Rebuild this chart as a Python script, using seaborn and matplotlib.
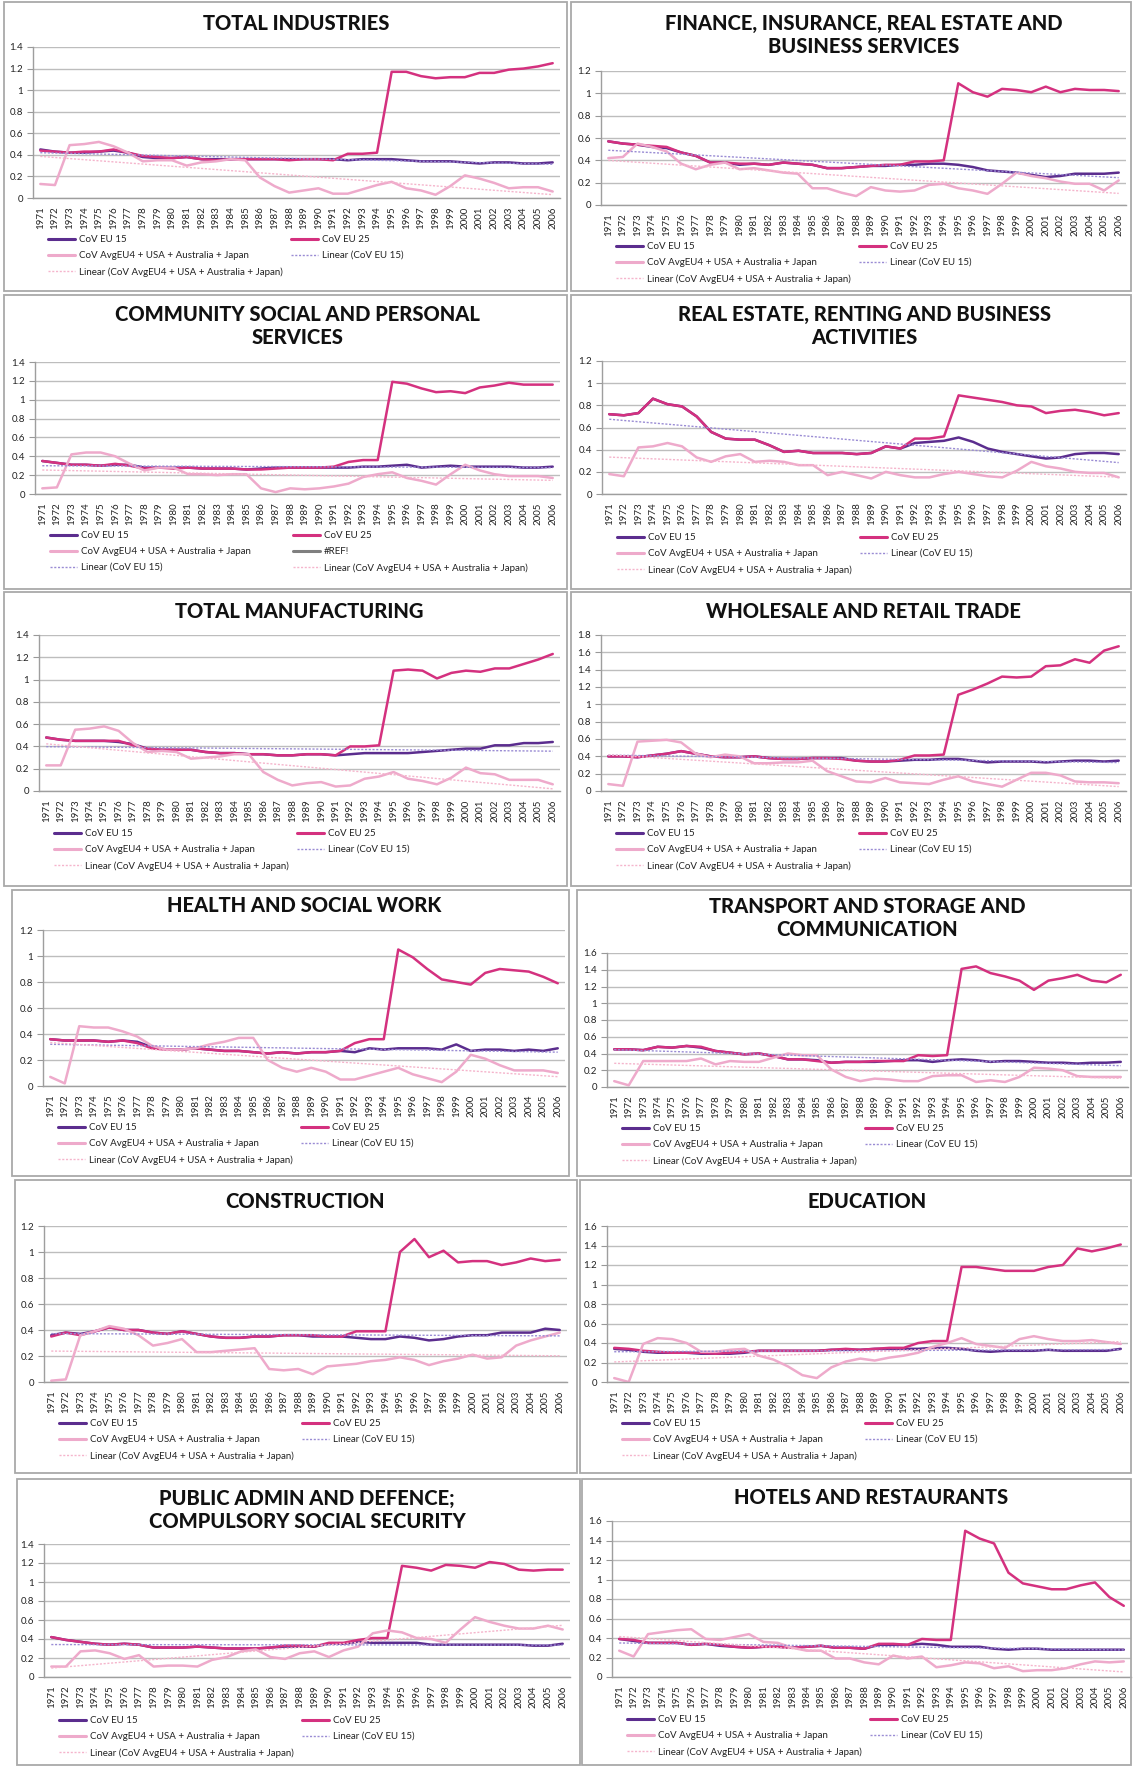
import numpy as np
import matplotlib
matplotlib.use("Agg")
import matplotlib.pyplot as plt
import seaborn as sns
from matplotlib.lines import Line2D
from matplotlib.patches import Rectangle

sns.set_theme(style="white")
plt.rcParams["font.family"] = ["Lato", "DejaVu Sans"]

W, H = 1133, 1766

years = [str(y) for y in range(1971, 2007)]

titles = [
    "TOTAL INDUSTRIES",
    "FINANCE, INSURANCE, REAL ESTATE AND\nBUSINESS SERVICES",
    "COMMUNITY SOCIAL AND PERSONAL\nSERVICES",
    "REAL ESTATE, RENTING AND BUSINESS\nACTIVITIES",
    "TOTAL MANUFACTURING",
    "WHOLESALE AND RETAIL TRADE",
    "HEALTH AND SOCIAL WORK",
    "TRANSPORT AND STORAGE AND\nCOMMUNICATION",
    "CONSTRUCTION",
    "EDUCATION",
    "PUBLIC ADMIN AND DEFENCE;\nCOMPULSORY SOCIAL SECURITY",
    "HOTELS AND RESTAURANTS",
]

y_max = [1.4, 1.2, 1.4, 1.2, 1.4, 1.8, 1.2, 1.6, 1.2, 1.6, 1.4, 1.6]

label_eu15 = "CoV EU 15"
label_eu25 = "CoV EU 25"
label_avg = "CoV AvgEU4 + USA + Australia + Japan"
label_lin15 = "Linear (CoV EU 15)"
label_linavg = "Linear (CoV AvgEU4 + USA + Australia + Japan)"
label_ref = "#REF!"

# ---------------- data ----------------
total_eu15 = [0.45, 0.43, 0.42, 0.42, 0.43, 0.44, 0.42, 0.38, 0.37, 0.37, 0.38, 0.36, 0.36, 0.36, 0.36, 0.36,
              0.36, 0.36, 0.36, 0.36, 0.36, 0.35, 0.36, 0.36, 0.36, 0.35, 0.34, 0.34, 0.34, 0.33, 0.32, 0.33,
              0.33, 0.32, 0.32, 0.33]
total_eu25 = [0.44, 0.43, 0.42, 0.43, 0.43, 0.45, 0.42, 0.39, 0.38, 0.37, 0.38, 0.36, 0.35, 0.36, 0.36, 0.36,
              0.36, 0.35, 0.36, 0.36, 0.35, 0.41, 0.41, 0.42, 1.17, 1.17, 1.13, 1.11, 1.12, 1.12, 1.16, 1.16,
              1.19, 1.20, 1.22, 1.25]
total_avg = [0.13, 0.12, 0.49, 0.50, 0.52, 0.48, 0.42, 0.34, 0.35, 0.35, 0.30, 0.33, 0.34, 0.36, 0.35, 0.19,
             0.11, 0.05, 0.07, 0.09, 0.04, 0.04, 0.08, 0.12, 0.15, 0.09, 0.07, 0.03, 0.11, 0.21, 0.18, 0.14,
             0.09, 0.10, 0.10, 0.06]

finance_eu15 = [0.57, 0.55, 0.54, 0.52, 0.51, 0.47, 0.44, 0.38, 0.38, 0.36, 0.37, 0.36, 0.38, 0.37, 0.36, 0.33,
                0.33, 0.34, 0.35, 0.35, 0.36, 0.36, 0.37, 0.37, 0.36, 0.34, 0.31, 0.30, 0.29, 0.27, 0.25, 0.26,
                0.28, 0.28, 0.28, 0.29]
finance_eu25 = [0.57, 0.55, 0.54, 0.53, 0.52, 0.47, 0.44, 0.38, 0.38, 0.37, 0.37, 0.36, 0.38, 0.37, 0.36, 0.33,
                0.33, 0.34, 0.35, 0.36, 0.36, 0.39, 0.39, 0.40, 1.09, 1.01, 0.97, 1.04, 1.03, 1.01, 1.06, 1.01,
                1.04, 1.03, 1.03, 1.02]
finance_avg = [0.42, 0.43, 0.55, 0.52, 0.48, 0.37, 0.32, 0.36, 0.38, 0.32, 0.33, 0.31, 0.29, 0.28, 0.15, 0.15,
               0.11, 0.08, 0.16, 0.13, 0.12, 0.13, 0.18, 0.19, 0.15, 0.13, 0.10, 0.19, 0.29, 0.26, 0.24, 0.21,
               0.19, 0.19, 0.13, 0.22]

community_eu15 = [0.35, 0.33, 0.31, 0.31, 0.30, 0.31, 0.31, 0.28, 0.28, 0.28, 0.28, 0.27, 0.27, 0.27, 0.26, 0.27,
                  0.28, 0.28, 0.28, 0.28, 0.28, 0.28, 0.29, 0.29, 0.30, 0.31, 0.28, 0.29, 0.30, 0.29, 0.29, 0.29,
                  0.29, 0.28, 0.28, 0.29]
community_eu25 = [0.35, 0.33, 0.31, 0.31, 0.30, 0.32, 0.30, 0.27, 0.28, 0.27, 0.28, 0.27, 0.27, 0.27, 0.26, 0.26,
                  0.27, 0.28, 0.28, 0.28, 0.29, 0.34, 0.36, 0.36, 1.19, 1.17, 1.12, 1.08, 1.09, 1.07, 1.13, 1.15,
                  1.18, 1.16, 1.16, 1.16]
community_avg = [0.06, 0.07, 0.42, 0.44, 0.44, 0.40, 0.32, 0.25, 0.28, 0.28, 0.21, 0.21, 0.20, 0.21, 0.21, 0.06,
                 0.02, 0.06, 0.05, 0.06, 0.08, 0.11, 0.18, 0.21, 0.23, 0.17, 0.14, 0.10, 0.21, 0.31, 0.25, 0.21,
                 0.19, 0.19, 0.19, 0.17]

realestate_eu15 = [0.72, 0.71, 0.73, 0.86, 0.81, 0.79, 0.70, 0.56, 0.50, 0.49, 0.49, 0.44, 0.38, 0.39, 0.37, 0.37,
                   0.37, 0.36, 0.37, 0.43, 0.41, 0.46, 0.47, 0.48, 0.51, 0.47, 0.41, 0.38, 0.36, 0.34, 0.32, 0.33,
                   0.36, 0.37, 0.37, 0.36]
realestate_eu25 = [0.72, 0.71, 0.73, 0.86, 0.81, 0.79, 0.70, 0.56, 0.50, 0.49, 0.49, 0.44, 0.38, 0.39, 0.37, 0.37,
                   0.37, 0.36, 0.37, 0.43, 0.41, 0.50, 0.50, 0.52, 0.89, 0.87, 0.85, 0.83, 0.80, 0.79, 0.73, 0.75,
                   0.76, 0.74, 0.71, 0.73]
realestate_avg = [0.18, 0.16, 0.42, 0.43, 0.46, 0.43, 0.33, 0.29, 0.34, 0.36, 0.29, 0.30, 0.29, 0.26, 0.26, 0.17,
                  0.20, 0.17, 0.14, 0.20, 0.17, 0.15, 0.15, 0.18, 0.20, 0.18, 0.16, 0.15, 0.21, 0.29, 0.25, 0.23,
                  0.20, 0.19, 0.19, 0.15]

manuf_eu15 = [0.48, 0.46, 0.45, 0.45, 0.45, 0.44, 0.42, 0.38, 0.37, 0.37, 0.37, 0.35, 0.34, 0.34, 0.33, 0.33,
              0.32, 0.32, 0.33, 0.33, 0.32, 0.33, 0.34, 0.34, 0.34, 0.34, 0.35, 0.36, 0.37, 0.38, 0.38, 0.41,
              0.41, 0.43, 0.43, 0.44]
manuf_eu25 = [0.48, 0.46, 0.45, 0.45, 0.45, 0.45, 0.41, 0.38, 0.37, 0.37, 0.37, 0.35, 0.34, 0.34, 0.33, 0.33,
              0.32, 0.32, 0.33, 0.33, 0.32, 0.40, 0.40, 0.41, 1.08, 1.09, 1.08, 1.01, 1.06, 1.08, 1.07, 1.10,
              1.10, 1.14, 1.18, 1.23]
manuf_avg = [0.23, 0.23, 0.55, 0.56, 0.58, 0.54, 0.43, 0.35, 0.36, 0.35, 0.29, 0.30, 0.31, 0.33, 0.33, 0.17,
             0.10, 0.05, 0.07, 0.08, 0.04, 0.05, 0.11, 0.13, 0.17, 0.11, 0.09, 0.06, 0.12, 0.21, 0.16, 0.15,
             0.10, 0.10, 0.10, 0.06]

trade_eu15 = [0.40, 0.40, 0.39, 0.41, 0.43, 0.46, 0.43, 0.40, 0.39, 0.39, 0.40, 0.38, 0.37, 0.37, 0.38, 0.38,
              0.38, 0.35, 0.34, 0.34, 0.35, 0.36, 0.36, 0.37, 0.37, 0.35, 0.33, 0.34, 0.34, 0.34, 0.33, 0.34,
              0.35, 0.35, 0.34, 0.35]
trade_eu25 = [0.40, 0.40, 0.39, 0.41, 0.43, 0.46, 0.43, 0.40, 0.39, 0.39, 0.40, 0.38, 0.37, 0.37, 0.38, 0.38,
              0.37, 0.35, 0.34, 0.34, 0.36, 0.41, 0.41, 0.42, 1.11, 1.17, 1.24, 1.32, 1.31, 1.32, 1.44, 1.45,
              1.52, 1.48, 1.62, 1.67]
trade_avg = [0.08, 0.06, 0.57, 0.58, 0.59, 0.56, 0.43, 0.39, 0.42, 0.40, 0.32, 0.32, 0.33, 0.33, 0.35, 0.23,
             0.17, 0.11, 0.10, 0.15, 0.10, 0.09, 0.08, 0.13, 0.17, 0.11, 0.08, 0.05, 0.13, 0.21, 0.21, 0.18,
             0.11, 0.10, 0.10, 0.09]

health_eu15 = [0.36, 0.35, 0.35, 0.35, 0.34, 0.35, 0.34, 0.30, 0.28, 0.28, 0.29, 0.28, 0.27, 0.27, 0.26, 0.25,
               0.26, 0.25, 0.26, 0.26, 0.27, 0.26, 0.29, 0.28, 0.29, 0.29, 0.29, 0.28, 0.32, 0.27, 0.28, 0.28,
               0.27, 0.28, 0.27, 0.29]
health_eu25 = [0.36, 0.35, 0.35, 0.35, 0.34, 0.35, 0.33, 0.29, 0.28, 0.28, 0.29, 0.28, 0.27, 0.27, 0.26, 0.25,
               0.26, 0.25, 0.26, 0.26, 0.27, 0.33, 0.36, 0.36, 1.05, 0.99, 0.90, 0.82, 0.80, 0.78, 0.87, 0.90,
               0.89, 0.88, 0.84, 0.79]
health_avg = [0.07, 0.02, 0.46, 0.45, 0.45, 0.42, 0.38, 0.31, 0.28, 0.28, 0.29, 0.32, 0.34, 0.37, 0.37, 0.20,
              0.14, 0.11, 0.14, 0.11, 0.05, 0.05, 0.08, 0.11, 0.14, 0.09, 0.06, 0.03, 0.11, 0.24, 0.21, 0.16,
              0.12, 0.12, 0.12, 0.10]

transport_eu15 = [0.45, 0.45, 0.44, 0.48, 0.47, 0.49, 0.47, 0.43, 0.41, 0.39, 0.40, 0.37, 0.33, 0.33, 0.32, 0.29,
                  0.30, 0.30, 0.30, 0.31, 0.32, 0.32, 0.30, 0.32, 0.33, 0.32, 0.30, 0.31, 0.31, 0.30, 0.29, 0.29,
                  0.28, 0.29, 0.29, 0.30]
transport_eu25 = [0.45, 0.45, 0.44, 0.48, 0.47, 0.49, 0.48, 0.43, 0.41, 0.39, 0.40, 0.37, 0.33, 0.33, 0.31, 0.29,
                  0.30, 0.30, 0.31, 0.31, 0.31, 0.38, 0.37, 0.38, 1.41, 1.44, 1.36, 1.32, 1.27, 1.16, 1.27, 1.30,
                  1.34, 1.27, 1.25, 1.34]
transport_avg = [0.07, 0.02, 0.31, 0.31, 0.31, 0.31, 0.34, 0.27, 0.31, 0.30, 0.30, 0.35, 0.40, 0.38, 0.38, 0.21,
                 0.12, 0.07, 0.10, 0.09, 0.07, 0.07, 0.13, 0.14, 0.14, 0.06, 0.08, 0.06, 0.12, 0.23, 0.22, 0.20,
                 0.13, 0.12, 0.12, 0.12]

constr_eu15 = [0.36, 0.38, 0.37, 0.39, 0.42, 0.40, 0.40, 0.38, 0.37, 0.39, 0.37, 0.35, 0.34, 0.34, 0.35, 0.35,
               0.36, 0.36, 0.35, 0.35, 0.35, 0.34, 0.33, 0.33, 0.35, 0.34, 0.32, 0.33, 0.35, 0.36, 0.36, 0.38,
               0.38, 0.38, 0.41, 0.40]
constr_eu25 = [0.35, 0.38, 0.36, 0.39, 0.42, 0.40, 0.40, 0.38, 0.37, 0.39, 0.37, 0.35, 0.34, 0.34, 0.35, 0.35,
               0.36, 0.36, 0.36, 0.35, 0.35, 0.39, 0.39, 0.39, 1.00, 1.10, 0.96, 1.01, 0.92, 0.93, 0.93, 0.90,
               0.92, 0.95, 0.93, 0.94]
constr_avg = [0.01, 0.02, 0.36, 0.39, 0.43, 0.41, 0.36, 0.28, 0.30, 0.33, 0.23, 0.23, 0.24, 0.25, 0.26, 0.10,
              0.09, 0.10, 0.06, 0.12, 0.13, 0.14, 0.16, 0.17, 0.19, 0.17, 0.13, 0.16, 0.18, 0.21, 0.18, 0.19,
              0.28, 0.32, 0.35, 0.38]

educ_eu15 = [0.34, 0.33, 0.31, 0.30, 0.30, 0.30, 0.29, 0.29, 0.29, 0.30, 0.32, 0.32, 0.32, 0.32, 0.32, 0.33,
             0.33, 0.33, 0.34, 0.34, 0.34, 0.34, 0.35, 0.35, 0.34, 0.32, 0.31, 0.32, 0.32, 0.32, 0.33, 0.32,
             0.32, 0.32, 0.32, 0.34]
educ_eu25 = [0.35, 0.34, 0.32, 0.31, 0.30, 0.30, 0.30, 0.29, 0.30, 0.31, 0.32, 0.32, 0.32, 0.32, 0.32, 0.33,
             0.34, 0.33, 0.34, 0.35, 0.35, 0.40, 0.42, 0.42, 1.18, 1.18, 1.16, 1.14, 1.14, 1.14, 1.18, 1.20,
             1.37, 1.34, 1.37, 1.41]
educ_avg = [0.04, 0.00, 0.39, 0.45, 0.44, 0.40, 0.31, 0.31, 0.33, 0.34, 0.27, 0.23, 0.16, 0.07, 0.04, 0.15,
            0.21, 0.24, 0.22, 0.25, 0.27, 0.30, 0.36, 0.40, 0.45, 0.39, 0.37, 0.35, 0.44, 0.47, 0.44, 0.42,
            0.42, 0.43, 0.41, 0.39]

public_eu15 = [0.42, 0.39, 0.37, 0.35, 0.34, 0.35, 0.34, 0.31, 0.31, 0.31, 0.32, 0.31, 0.30, 0.30, 0.30, 0.31,
               0.32, 0.32, 0.32, 0.35, 0.35, 0.37, 0.36, 0.36, 0.36, 0.36, 0.34, 0.34, 0.34, 0.34, 0.34, 0.34,
               0.34, 0.33, 0.33, 0.35]
public_eu25 = [0.42, 0.39, 0.37, 0.35, 0.34, 0.35, 0.34, 0.31, 0.31, 0.31, 0.32, 0.31, 0.30, 0.30, 0.30, 0.31,
               0.33, 0.33, 0.32, 0.36, 0.36, 0.39, 0.41, 0.41, 1.17, 1.15, 1.12, 1.18, 1.17, 1.15, 1.21, 1.19,
               1.13, 1.12, 1.13, 1.13]
public_avg = [0.11, 0.11, 0.27, 0.28, 0.25, 0.19, 0.23, 0.11, 0.12, 0.12, 0.11, 0.18, 0.21, 0.27, 0.29, 0.21,
              0.19, 0.25, 0.27, 0.21, 0.28, 0.32, 0.46, 0.49, 0.47, 0.41, 0.40, 0.36, 0.50, 0.63, 0.58, 0.54,
              0.51, 0.51, 0.54, 0.50]

hotels_eu15 = [0.39, 0.37, 0.35, 0.35, 0.35, 0.33, 0.34, 0.32, 0.31, 0.30, 0.31, 0.31, 0.30, 0.31, 0.32, 0.30,
               0.30, 0.29, 0.33, 0.33, 0.33, 0.34, 0.33, 0.31, 0.31, 0.31, 0.29, 0.28, 0.29, 0.29, 0.28, 0.28,
               0.28, 0.28, 0.28, 0.28]
hotels_eu25 = [0.39, 0.38, 0.35, 0.35, 0.35, 0.33, 0.34, 0.33, 0.31, 0.30, 0.31, 0.31, 0.30, 0.31, 0.32, 0.30,
               0.30, 0.29, 0.34, 0.34, 0.33, 0.39, 0.38, 0.38, 1.50, 1.42, 1.37, 1.07, 0.96, 0.93, 0.90, 0.90,
               0.94, 0.97, 0.82, 0.73]
hotels_avg = [0.27, 0.21, 0.44, 0.46, 0.48, 0.49, 0.39, 0.38, 0.41, 0.44, 0.36, 0.35, 0.30, 0.27, 0.27, 0.19,
              0.19, 0.15, 0.13, 0.22, 0.19, 0.21, 0.10, 0.12, 0.15, 0.14, 0.09, 0.11, 0.06, 0.07, 0.07, 0.09,
              0.13, 0.16, 0.15, 0.16]

series = [
    (total_eu15, total_eu25, total_avg),
    (finance_eu15, finance_eu25, finance_avg),
    (community_eu15, community_eu25, community_avg),
    (realestate_eu15, realestate_eu25, realestate_avg),
    (manuf_eu15, manuf_eu25, manuf_avg),
    (trade_eu15, trade_eu25, trade_avg),
    (health_eu15, health_eu25, health_avg),
    (transport_eu15, transport_eu25, transport_avg),
    (constr_eu15, constr_eu25, constr_avg),
    (educ_eu15, educ_eu25, educ_avg),
    (public_eu15, public_eu25, public_avg),
    (hotels_eu15, hotels_eu25, hotels_avg),
]

# ---------------- layout (pixels) ----------------
boxes = [(4, 2, 567, 291), (571, 2, 1131, 291),
         (4, 295, 567, 589), (571, 295, 1131, 589),
         (4, 592, 567, 886), (571, 592, 1131, 886),
         (12, 890, 569, 1176), (577, 890, 1131, 1176),
         (15, 1180, 577, 1473), (580, 1180, 1131, 1473),
         (17, 1479, 580, 1765), (582, 1479, 1131, 1765)]
axes_px = [(33, 47, 560, 198), (601, 71, 1126, 205),
           (35, 362, 560, 494), (602, 361, 1126, 494),
           (39, 635, 560, 791), (601, 635, 1126, 791),
           (43, 930, 565, 1086), (607, 953, 1128, 1087),
           (44, 1226, 567, 1382), (607, 1226, 1128, 1382),
           (44, 1544, 570, 1677), (612, 1521, 1131, 1677)]
title_y = [23, 35, 326, 326, 612, 612, 906, 918, 1202, 1202, 1510, 1497]
legend_y = [241, 248, 537, 539, 835, 835, 1129, 1130, 1425, 1425, 1722, 1721]

C15 = "#5b2d8e"
C25 = "#d4317f"
CAVG = "#eeaacb"
CLIN15 = "#9a8cd4"
CLINAVG = "#f5b5cc"
CREF = "#7f7f7f"

fig = plt.figure(figsize=(W / 100, H / 100), dpi=100)
fig.patch.set_facecolor("white")

def fx(x):
    return x / W

def fy(y):
    return 1 - y / H

xpos = np.arange(len(years))
lw_main = 1.8

for i in range(12):
    bx0, by0, bx1, by1 = boxes[i]
    fig.patches.append(Rectangle((fx(bx0), fy(by1)), (bx1 - bx0) / W, (by1 - by0) / H,
                                 transform=fig.transFigure, fill=False, ec="#a9a9a9", lw=1.3))
    L, T, R, B = axes_px[i]
    ax = fig.add_axes([fx(L), fy(B), (R - L) / W, (B - T) / H])
    eu15, eu25, avg = series[i]

    sns.lineplot(x=xpos, y=eu15, ax=ax, color=C15, lw=lw_main, legend=False, sort=False)
    sns.lineplot(x=xpos, y=eu25, ax=ax, color=C25, lw=lw_main, legend=False, sort=False)
    sns.lineplot(x=xpos, y=avg, ax=ax, color=CAVG, lw=lw_main, legend=False, sort=False)
    sns.regplot(x=xpos, y=np.array(eu15), ax=ax, scatter=False, ci=None, color=CLIN15,
                line_kws=dict(lw=1.0, ls=(0, (1.5, 1.2))))
    sns.regplot(x=xpos, y=np.array(avg), ax=ax, scatter=False, ci=None, color=CLINAVG,
                line_kws=dict(lw=1.0, ls=(0, (1.5, 1.2))))

    ax.set_xlabel("")
    ax.set_ylabel("")
    ax.set_xlim(-0.5, len(years) - 0.5)
    ax.set_ylim(0, y_max[i])
    yt = np.round(np.arange(0, y_max[i] + 0.001, 0.2), 1)
    ax.set_yticks(yt)
    ax.set_yticklabels([f"{v:g}" for v in yt])
    ax.set_xticks(xpos)
    ax.set_xticklabels(years, rotation=90)
    ax.set_xticks(np.arange(-0.5, len(years), 1.0), minor=True)
    ax.tick_params(axis="x", which="major", length=0, pad=6, labelsize=7, labelcolor="#222222")
    ax.tick_params(axis="x", which="minor", length=4, width=0.8, color="#999999", direction="out")
    ax.tick_params(axis="y", which="major", length=4, width=0.8, color="#999999", pad=3,
                   labelsize=7, labelcolor="#222222", left=True)
    ax.grid(False)
    ax.yaxis.grid(True, color="#bdbdbd", lw=1.0)
    ax.set_axisbelow(True)
    for s in ["top", "right"]:
        ax.spines[s].set_visible(False)
    for s in ["left", "bottom"]:
        ax.spines[s].set_color("#9e9e9e")
        ax.spines[s].set_linewidth(1.0)

    fig.text(fx((L + R) / 2), fy(title_y[i]), titles[i], ha="center", va="center",
             fontsize=14.5, fontweight=900, color="#111111", linespacing=1.2)

    h15 = Line2D([], [], color=C15, lw=2.2)
    h25 = Line2D([], [], color=C25, lw=2.2)
    havg = Line2D([], [], color=CAVG, lw=2.2)
    hl15 = Line2D([], [], color=CLIN15, lw=1.0, ls=(0, (1.5, 1.2)))
    hlavg = Line2D([], [], color=CLINAVG, lw=1.0, ls=(0, (1.5, 1.2)))
    href = Line2D([], [], color=CREF, lw=2.2)
    if i == 2:
        col1 = ([h15, havg, hl15], [label_eu15, label_avg, label_lin15])
        col2 = ([h25, href, hlavg], [label_eu25, label_ref, label_linavg])
    else:
        col1 = ([h15, havg, hlavg], [label_eu15, label_avg, label_linavg])
        col2 = ([h25, hl15], [label_eu25, label_lin15])
    for (hs, ls_), xoff in ((col1, 15), (col2, 258)):
        leg = fig.legend(hs, ls_, loc="upper left",
                         bbox_to_anchor=(fx(L + xoff), fy(legend_y[i] - 6)),
                         bbox_transform=fig.transFigure, frameon=False, fontsize=7,
                         handlelength=2.8, handletextpad=0.4, labelspacing=0.72,
                         borderpad=0, borderaxespad=0)
        for t in leg.get_texts():
            t.set_color("#222222")

fig.savefig("out.png", dpi=100, facecolor="white")
